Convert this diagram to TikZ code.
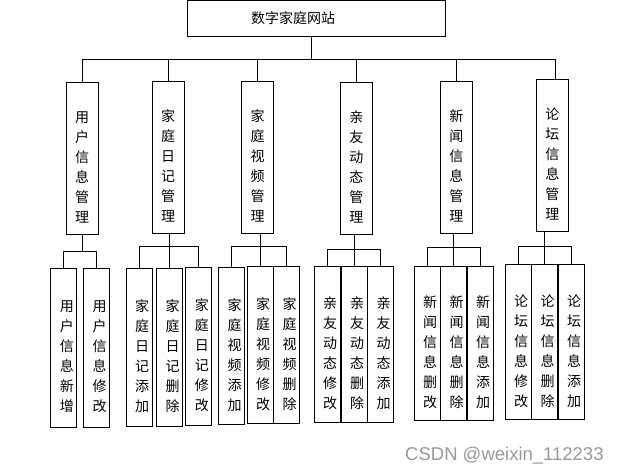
\documentclass[tikz,border=0pt]{standalone}
\usepackage{fontspec}
\newfontfamily\cjk{Noto Sans CJK SC}
\setsansfont{Liberation Sans}
\usepackage{xcolor}

% testo verticale, un carattere per riga
\newcommand{\vtxt}[2][0pt]{\hspace*{#1}\raisebox{-9pt}[\height][\depth]{\parbox{1em}{\centering #2}}}

\tikzset{
  every node/.style={font=\cjk\fontsize{14}{20}\selectfont},
  rootbox/.style={draw, line width=1pt, minimum width=258pt, minimum height=36pt, inner sep=0pt},
  modbox/.style={draw, line width=1pt, minimum width=32pt, minimum height=152pt, inner sep=0pt},
  leafbox/.style={draw, line width=1pt, minimum width=26pt, minimum height=156pt, inner sep=0pt},
  link/.style={line width=1pt},
}

\begin{document}
\begin{tikzpicture}[x=1pt, y=-1pt]
                \useasboundingbox (0,0) rectangle (618,471);

                % Radice
                \node[rootbox] (root) at (316,18) {\hspace*{-46pt}数字家庭网站};

                % Moduli
                \node[modbox] (m1) at (82,158) {\vtxt{用\\户\\信\\息\\管\\理}};
                \node[modbox] (m2) at (168,157) {\vtxt{家\\庭\\日\\记\\管\\理}};
                \node[modbox] (m3) at (257.5,157) {\vtxt{家\\庭\\视\\频\\管\\理}};
                \node[modbox] (m4) at (356.3,158) {\vtxt{亲\\友\\动\\态\\管\\理}};
                \node[modbox] (m5) at (456.3,157) {\vtxt{新\\闻\\信\\息\\管\\理}};
                \node[modbox] (m6) at (552.3,155) {\vtxt{论\\坛\\信\\息\\管\\理}};

                % Funzioni
                \node[leafbox, minimum height=159pt] (s11) at (63.8,348) {\vtxt[6pt]{用\\户\\信\\息\\新\\增}};
                \node[leafbox, minimum height=159pt] (s12) at (96.5,348) {\vtxt[6pt]{用\\户\\信\\息\\修\\改}};

                \node[leafbox, minimum height=158pt] (s21) at (139,347) {\vtxt[6pt]{家\\庭\\日\\记\\添\\加}};
                \node[leafbox, minimum height=158pt] (s22) at (169.7,347) {\vtxt[6pt]{家\\庭\\日\\记\\删\\除}};
                \node[leafbox, minimum height=158pt] (s23) at (198.8,346) {\vtxt[6pt]{家\\庭\\日\\记\\修\\改}};

                \node[leafbox, minimum height=157pt] (s31) at (231.5,346) {\vtxt[6pt]{家\\庭\\视\\频\\添\\加}};
                \node[leafbox, minimum height=157pt] (s32) at (260,345) {\vtxt[6pt]{家\\庭\\视\\频\\修\\改}};
                \node[leafbox, minimum height=157pt] (s33) at (286.5,345) {\vtxt[6pt]{家\\庭\\视\\频\\删\\除}};

                \node[leafbox] (s41) at (327,344) {\vtxt[6pt]{亲\\友\\动\\态\\修\\改}};
                \node[leafbox] (s42) at (354.2,344) {\vtxt[6pt]{亲\\友\\动\\态\\删\\除}};
                \node[leafbox] (s43) at (380.5,344) {\vtxt[6pt]{亲\\友\\动\\态\\添\\加}};

                \node[leafbox, minimum height=154pt] (s51) at (427.2,343) {\vtxt[6pt]{新\\闻\\信\\息\\删\\改}};
                \node[leafbox, minimum height=154pt] (s52) at (453.5,343) {\vtxt[6pt]{新\\闻\\信\\息\\删\\除}};
                \node[leafbox, minimum height=154pt] (s53) at (480,343) {\vtxt[6pt]{新\\闻\\信\\息\\添\\加}};

                \node[leafbox, minimum height=155pt] (s61) at (518,342) {\vtxt[6pt]{论\\坛\\信\\息\\修\\改}};
                \node[leafbox, minimum height=155pt] (s62) at (544.7,342) {\vtxt[6pt]{论\\坛\\信\\息\\删\\除}};
                \node[leafbox, minimum height=155pt] (s63) at (571,342) {\vtxt[6pt]{论\\坛\\信\\息\\添\\加}};

                % Collegamenti radice - moduli
                \coordinate (bus) at (0,59);
                \draw[link] ([xshift=-5pt]root.south) -- ([xshift=-5pt]root.south |- bus);
                \draw[link] (m1.north |- bus) -- ([xshift=3pt]m6.north |- bus);
                \draw[link] (m1.north) -- (m1.north |- bus);
                \draw[link] (m2.north) -- (m2.north |- bus);
                \draw[link] (m3.north) -- (m3.north |- bus);
                \draw[link] (m4.north) -- (m4.north |- bus);
                \draw[link] (m5.north) -- (m5.north |- bus);
                \draw[link] ([xshift=3pt]m6.north) -- ([xshift=3pt]m6.north |- bus);

                % Collegamenti moduli - funzioni
                \coordinate (g1) at (0,251);
                \draw[link] (m1.south) -- (m1.south |- g1);
                \draw[link] (s11.north) -- (s11.north |- g1) -- (s12.north |- g1) -- (s12.north);

                \coordinate (g2) at (0,246);
                \draw[link] (m2.south -| s22.north) -- (s22.north);
                \draw[link] (s21.north) -- (s21.north |- g2) -- (s23.north |- g2) -- (s23.north);

                \coordinate (g3) at (0,246);
                \draw[link] (m3.south -| s32.north) -- (s32.north);
                \draw[link] (s31.north) -- (s31.north |- g3) -- (s33.north |- g3) -- (s33.north);

                \coordinate (g4) at (0,249);
                \draw[link] (m4.south -| s42.north) -- (s42.north);
                \draw[link] (s41.north) -- (s41.north |- g4) -- (s43.north |- g4) -- (s43.north);

                \coordinate (g5) at (0,247);
                \draw[link] (m5.south -| s52.north) -- (s52.north);
                \draw[link] (s51.north) -- (s51.north |- g5) -- (s53.north |- g5) -- (s53.north);

                \coordinate (g6) at (0,246);
                \draw[link] (m6.south -| s62.north) -- (s62.north);
                \draw[link] (s61.north) -- (s61.north |- g6) -- (s63.north |- g6) -- (s63.north);

                % Filigrana
                \node[font=\sffamily\fontsize{18.5}{20}\selectfont, text=black!40, anchor=base west, inner sep=0pt] (mark) at (405,460) {CSDN @weixin\_112233};
\end{tikzpicture}
\end{document}
